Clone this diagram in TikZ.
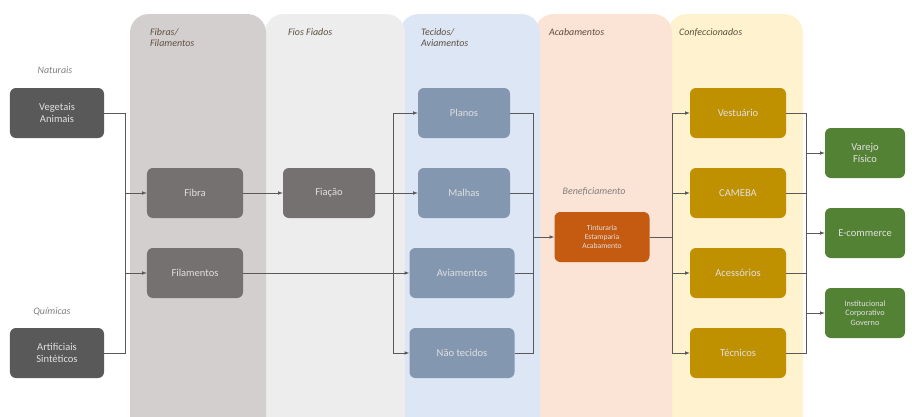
\documentclass[tikz,border=0pt]{standalone}
\usepackage{fontspec}
\setmainfont{Carlito}
\usetikzlibrary{calc}

\definecolor{pfib}{HTML}{D3CFCF}
\definecolor{pfio}{HTML}{EDEDED}
\definecolor{ptec}{HTML}{DCE6F4}
\definecolor{pacb}{HTML}{FBE3D6}
\definecolor{pcon}{HTML}{FFF2CE}
\definecolor{bdark}{HTML}{595959}
\definecolor{bfib}{HTML}{767171}
\definecolor{bblue}{HTML}{8497B0}
\definecolor{borange}{HTML}{C55A11}
\definecolor{bgold}{HTML}{BF9000}
\definecolor{bgreen}{HTML}{548235}
\definecolor{linegray}{HTML}{595959}
\definecolor{titlec}{HTML}{5F4F3F}

\begin{document}
\begin{tikzpicture}[x=0.03cm,y=-0.03cm,
  box/.style={rounded corners=5pt,minimum height=1.5cm,align=center,
    font=\fontsize{9}{10}\selectfont,text=white!88!black},
  panel/.style={rounded corners=16pt},
  ptitle/.style={anchor=north west,align=left,font=\fontsize{8.5}{9.5}\selectfont\itshape,text=titlec},
  side/.style={font=\fontsize{8.5}{10}\selectfont\itshape,text=gray},
  link/.style={->,>=latex,thin,draw=linegray}]
\useasboundingbox (0,0) rectangle (912,417);

% colunas
\begin{scope}
\clip (0,0) rectangle (912,417);
\fill[panel,pcon](668,14) rectangle (803,440);
\fill[panel,pacb](535,14) rectangle (672,440);
\fill[panel,ptec](400,14) rectangle (540,440);
\fill[panel,pfio](265,14) rectangle (405,440);
\fill[panel,pfib](130,14) rectangle (266,440);
\end{scope}
\node[ptitle] (tfib) at (146,24) {Fibras/\\Filamentos};
\node[ptitle] (tfio) at (284,24) {Fios Fiados};
\node[ptitle] (ttec) at (417,24) {Tecidos/\\Aviamentos};
\node[ptitle] (tacb) at (545,24) {Acabamentos};
\node[ptitle] (tcon) at (675,24) {Confeccionados};

% materias-primas
\node[side] (lnat) at (55,70) {Naturais};
\node[side] (lqui) at (52,312) {Químicas};
\node[box,fill=bdark,minimum width=2.82cm] (veg) at (57,113) {Vegetais\\Animais};
\node[box,fill=bdark,minimum width=2.82cm] (art) at (57,353) {Artificiais\\Sintéticos};

\node[box,fill=bfib,minimum width=2.88cm] (fibra) at (195,193) {Fibra};
\node[box,fill=bfib,minimum width=2.88cm] (filam) at (195,273) {Filamentos};
\node[box,fill=bfib,minimum width=2.76cm] (fiacao) at (329,193) {Fiação};

\node[box,fill=bblue,minimum width=2.76cm] (planos) at (464,113) {Planos};
\node[box,fill=bblue,minimum width=2.76cm] (malhas) at (464,193) {Malhas};
\node[box,fill=bblue,minimum width=3.15cm] (aviam) at (462,273) {Aviamentos};
\node[box,fill=bblue,minimum width=3.15cm] (naotec) at (462,353) {Não tecidos};

\node[side] (lben) at (594,192) {Beneficiamento};
\node[box,fill=borange,minimum width=2.85cm,font=\fontsize{6.5}{7.5}\selectfont] (tint) at (602,237) {Tinturaria\\Estamparia\\Acabamento};

\node[box,fill=bgold,minimum width=2.88cm] (vest) at (738,113) {Vestuário};
\node[box,fill=bgold,minimum width=2.88cm] (cameba) at (738,193) {CAMEBA};
\node[box,fill=bgold,minimum width=2.88cm] (acess) at (738,273) {Acessórios};
\node[box,fill=bgold,minimum width=2.88cm] (tecn) at (738,353) {Técnicos};

\node[box,fill=bgreen,minimum width=2.4cm] (varejo) at (865,153) {Varejo\\Físico};
\node[box,fill=bgreen,minimum width=2.4cm] (ecom) at (865,233) {E-commerce};
\node[box,fill=bgreen,minimum width=2.4cm,font=\fontsize{7}{8}\selectfont] (inst) at (865,313) {Institucional\\Corporativo\\Governo};

% barramentos
\coordinate (c1) at (125,0);
\coordinate (c3) at (393,0);
\coordinate (c4) at (533,0);
\coordinate (c5) at (672,0);
\coordinate (c6) at (806,0);

\draw[thin,linegray] (veg.east) -- (veg.east -| c1) -- (art.east -| c1) -- (art.east);
\draw[link] (c1 |- fibra.west) -- (fibra.west);
\draw[link] (c1 |- filam.west) -- (filam.west);
\draw[link] (fibra.east) -- (fiacao.west);

\draw[thin,linegray] (c3 |- planos.west) -- (c3 |- naotec.west);
\draw[link] (c3 |- planos.west) -- (planos.west);
\draw[link] (fiacao.east) -- (malhas.west);
\draw[link] (filam.east) -- (aviam.west);
\draw[link] (c3 |- naotec.west) -- (naotec.west);

\draw[thin,linegray] (planos.east) -- (planos.east -| c4) -- (c4 |- naotec.east) -- (naotec.east);
\draw[thin,linegray] (malhas.east) -- (malhas.east -| c4);
\draw[thin,linegray] (aviam.east) -- (aviam.east -| c4);
\draw[link] (c4 |- tint.west) -- (tint.west);

\draw[thin,linegray] (tint.east) -- (tint.east -| c5);
\draw[thin,linegray] (c5 |- vest.west) -- (c5 |- tecn.west);
\foreach \n in {vest,cameba,acess,tecn}
  \draw[link] (c5 |- \n.west) -- (\n.west);

\draw[thin,linegray] (vest.east) -- (vest.east -| c6) -- (c6 |- tecn.east) -- (tecn.east);
\draw[thin,linegray] (cameba.east) -- (cameba.east -| c6);
\draw[thin,linegray] (acess.east) -- (acess.east -| c6);
\foreach \n in {varejo,ecom,inst}
  \draw[link] (c6 |- \n.west) -- (\n.west);

\end{tikzpicture}
\end{document}
